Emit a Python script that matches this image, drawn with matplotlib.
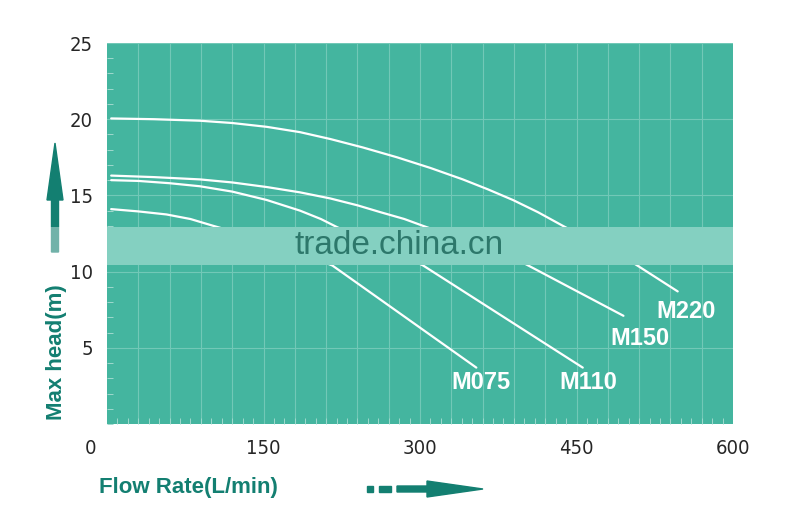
import matplotlib
matplotlib.use("Agg")
import matplotlib.pyplot as plt
from matplotlib.patches import Polygon, Rectangle
import matplotlib.transforms as mtransforms

# pump curves: flow (L/min) vs head (m)
m220_flow = [4, 45, 89, 120, 153, 185, 214, 245, 278, 310, 341, 365, 389, 413, 437, 470, 506, 547]
m220_head = [20.05, 20.0, 19.9, 19.75, 19.5, 19.15, 18.7, 18.15, 17.5, 16.8, 16.05, 15.4, 14.7, 13.9, 13.0, 11.8, 10.5, 8.7]

m150_flow = [4, 45, 89, 120, 153, 185, 214, 240, 262, 285, 303, 350, 401, 495]
m150_head = [16.3, 16.2, 16.05, 15.85, 15.55, 15.2, 14.8, 14.35, 13.9, 13.45, 13.0, 11.85, 10.5, 7.1]

m110_flow = [4, 30, 60, 89, 120, 153, 185, 205, 221, 240, 260, 282, 303, 456]
m110_head = [16.0, 15.95, 15.8, 15.6, 15.25, 14.7, 14.0, 13.45, 12.9, 12.35, 11.75, 11.1, 10.4, 3.7]

m075_flow = [4, 30, 57, 80, 102, 130, 160, 190, 216, 354]
m075_head = [14.1, 13.95, 13.75, 13.45, 13.0, 12.45, 11.8, 11.1, 10.4, 3.7]

models = ["M075", "M110", "M150", "M220"]
label_flow = [358, 461, 511, 555]
label_head = [2.7, 2.75, 5.6, 7.4]

x_ticks = [0, 150, 300, 450, 600]
y_ticks = [5, 10, 15, 20, 25]

BG = "#44b59f"
DARK = "#137f71"
GRID = "#72c8b7"
ARIAL = ["Liberation Sans", "DejaVu Sans"]

W, H = 800, 518
fig = plt.figure(figsize=(W / 100, H / 100), dpi=100)
ax = fig.add_axes([107 / W, 1 - 424 / H, (733 - 107) / W, (424 - 43) / H])
ax.set_facecolor(BG)
ax.set_xlim(0, 600)
ax.set_ylim(0, 25)

for s in ax.spines.values():
    s.set_visible(False)

ax.set_xticks(x_ticks)
ax.set_xticks(range(0, 601, 10), minor=True)
ax.set_yticks(y_ticks)
ax.set_yticks(range(0, 26), minor=True)
ax.tick_params(which="major", length=0)
ax.tick_params(which="minor", direction="in", length=4, color="#9fd9cd", width=0.7)
ax.yaxis.grid(True, color=GRID, lw=0.8)
for xv in range(30, 600, 30):
    ax.axvline(xv, color=GRID, lw=0.8, zorder=0.5)
ax.set_axisbelow(True)

ax.set_xticklabels([str(v) for v in x_ticks], fontsize=14.5, family="DejaVu Sans",
                   fontstretch="condensed", color="#262626")
ax.set_yticklabels([str(v) for v in y_ticks], fontsize=14.5, family="DejaVu Sans",
                   fontstretch="condensed", color="#262626")
ax.tick_params(axis="x", pad=11)
ax.tick_params(axis="y", pad=10)
# the "0" label sits left of the plot edge in the original
xl = ax.get_xticklabels()
xl[0].set_transform(xl[0].get_transform() + mtransforms.ScaledTranslation(-0.16, 0, fig.dpi_scale_trans))

for fl, hd in [(m220_flow, m220_head), (m150_flow, m150_head), (m110_flow, m110_head), (m075_flow, m075_head)]:
    ax.plot(fl, hd, color="white", lw=1.6, solid_capstyle="round", solid_joinstyle="round", zorder=3)

for name, fx, hy in zip(models, label_flow, label_head):
    ax.text(fx, hy, name, color="white", fontsize=17, fontweight="bold", family=ARIAL,
            ha="center", va="center", zorder=4)


def px(x, y):
    return (x / W, 1 - y / H)


# axis titles
fig.text(*px(57, 352), "Max head(m)", rotation=90, color=DARK, fontsize=16, fontweight="bold",
         family=ARIAL, ha="center", va="center")
fig.text(*px(99, 487), "Flow Rate(L/min)", color=DARK, fontsize=16, fontweight="bold",
         family=ARIAL, ha="left", va="center")

# up arrow beside the y title
up = [px(51.5, 252), px(51.5, 200), px(47, 200), px(55, 143), px(63, 200), px(58.5, 200), px(58.5, 252)]
fig.patches.append(Polygon(up, closed=True, transform=fig.transFigure, color=DARK))

# dashed right arrow beside the x title
for x0, x1 in [(367, 373), (379, 391)]:
    fig.patches.append(Polygon([px(x0, 486), px(x1, 486), px(x1, 492), px(x0, 492)], closed=True,
                               transform=fig.transFigure, color=DARK))
right = [px(397, 486), px(427, 486), px(427, 481), px(483, 489), px(427, 497), px(427, 492), px(397, 492)]
fig.patches.append(Polygon(right, closed=True, transform=fig.transFigure, color=DARK))

# watermark band: opaque over the plot, see-through over the margin
fig.patches.append(Rectangle(px(107, 265), (733 - 107) / W, 38 / H, transform=fig.transFigure,
                             color="#84d0c1", lw=0, zorder=5))
fig.patches.append(Rectangle(px(40, 265), 67 / W, 38 / H, transform=fig.transFigure,
                             color="white", alpha=0.4, lw=0, zorder=5))
fig.text(*px(399, 245), "trade.china.cn", color="#2d786b", fontsize=24, family=ARIAL,
         ha="center", va="center", zorder=6)

fig.savefig("out.png", dpi=100, facecolor="white")
